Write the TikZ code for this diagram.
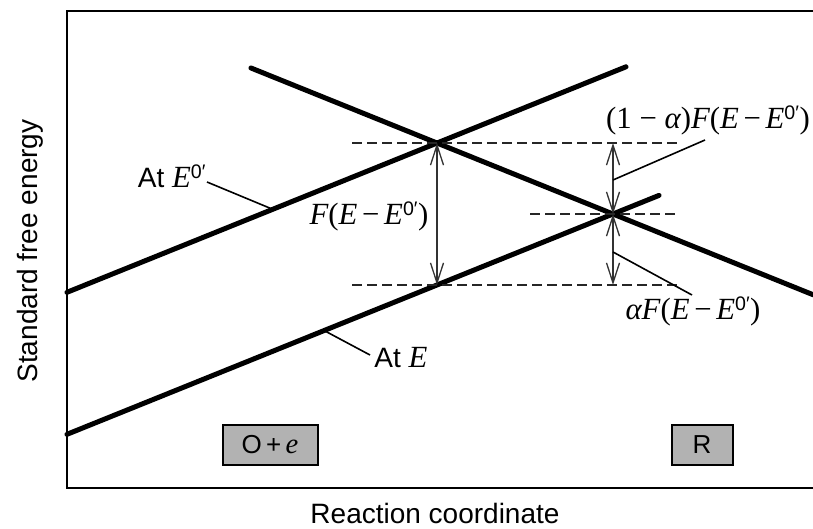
\documentclass[tikz,border=0pt]{standalone}
\usepackage{fontspec}
\setmainfont{Liberation Sans}
\newfontfamily\tms[Scale=1.1]{Liberation Serif}
\usetikzlibrary{arrows.meta}
\newcommand\myit[1]{{\tms\itshape #1}}
\newcommand\zp{\textsuperscript{0′}}
\newcommand\FEE{\myit{F}{\tms(}\myit{E}\,{\tms −}\,\myit{E}\zp{\tms)}}
\begin{document}
\begin{tikzpicture}[x=1pt,y=-1pt,
  axis/.style={line width=2.5pt},
  curve/.style={line width=5pt,line cap=round},
  guide/.style={line width=2pt,dash pattern=on 10pt off 5pt,black!85},
  leader/.style={line width=1.6pt},
  dim/.style={line width=1.8pt,black!80,{Straight Barb[length=20pt,width=13pt,line width=1.3pt]}-{Straight Barb[length=20pt,width=13pt,line width=1.3pt]}},
  lbl/.style={font=\fontsize{28}{32}\selectfont,inner sep=0pt},
  state/.style={draw,line width=2pt,fill=black!30,font=\fontsize{26}{30}\selectfont,minimum height=40pt,inner sep=0pt}
]
\useasboundingbox (0,0) rectangle (813,529);
% axes
\coordinate (tl) at (67,11);
\coordinate (tr) at (813,11);
\coordinate (bl) at (67,488);
\coordinate (br) at (813,488);
\draw[axis] (tr) -- (tl) -- (bl) -- (br);
% key points
\coordinate (X1) at (437,143);
\coordinate (X2) at (613,214);
\coordinate (X3) at (437,285);
\coordinate (X1b) at (613,143);
\coordinate (X3b) at (613,285);
% curves
\coordinate (Oa) at (67,292.3);
\coordinate (Ob) at (626,66.8);
\coordinate (Ea) at (67,434.3);
\coordinate (Eb) at (659,195.4);
\coordinate (Ra) at (251,68);
\coordinate (Rb) at (813,294.7);
\draw[curve] (Oa) -- (Ob);
\draw[curve] (Ea) -- (Eb);
\draw[curve] (Ra) -- (Rb);
% dashed guides
\coordinate (g1a) at (352,143); \coordinate (g1b) at (680,143);
\coordinate (g2a) at (530,214); \coordinate (g2b) at (677,214);
\coordinate (g3a) at (352,285); \coordinate (g3b) at (680,285);
\draw[guide] (g1a) -- (g1b);
\draw[guide] (g2a) -- (g2b);
\draw[guide] (g3a) -- (g3b);
% dimension arrows
\draw[dim] (X1) -- (X3);
\draw[dim] (X1b) -- (X2);
\draw[dim] (X2) -- (X3b);
% labels
\node[lbl] (atE0) at (172,176) {At \myit{E}\zp};
\node[lbl] (atE) at (401,358) {At \myit{E}};
\node[lbl] (F) at (369,216) {\FEE};
\node[lbl] (F1) at (708,120) {{\tms(1 − }\myit{α}{\tms)}\FEE};
\node[lbl] (F2) at (693,311) {\myit{α}\FEE};
% leaders
\coordinate (l1a) at (207,182); \coordinate (l1b) at (272,209);
\coordinate (l2a) at (370,355); \coordinate (l2b) at (325,331);
\coordinate (l3a) at (705,140); \coordinate (l3b) at (613,180);
\coordinate (l4a) at (692,295); \coordinate (l4b) at (613,252);
\draw[leader] (l1a) -- (l1b);
\draw[leader] (l2a) -- (l2b);
\draw[leader] (l3a) -- (l3b);
\draw[leader] (l4a) -- (l4b);
% states
\node[state,minimum width=95pt] (Ox) at (270,445) {O\,+\,\myit{e}};
\node[state,minimum width=61pt] (R) at (702,445) {R};
% axis titles
\node[lbl,rotate=90] (ylab) at (30,251) {Standard free energy};
\node[lbl] (xlab) at (435,513) {Reaction coordinate};
\end{tikzpicture}
\end{document}
